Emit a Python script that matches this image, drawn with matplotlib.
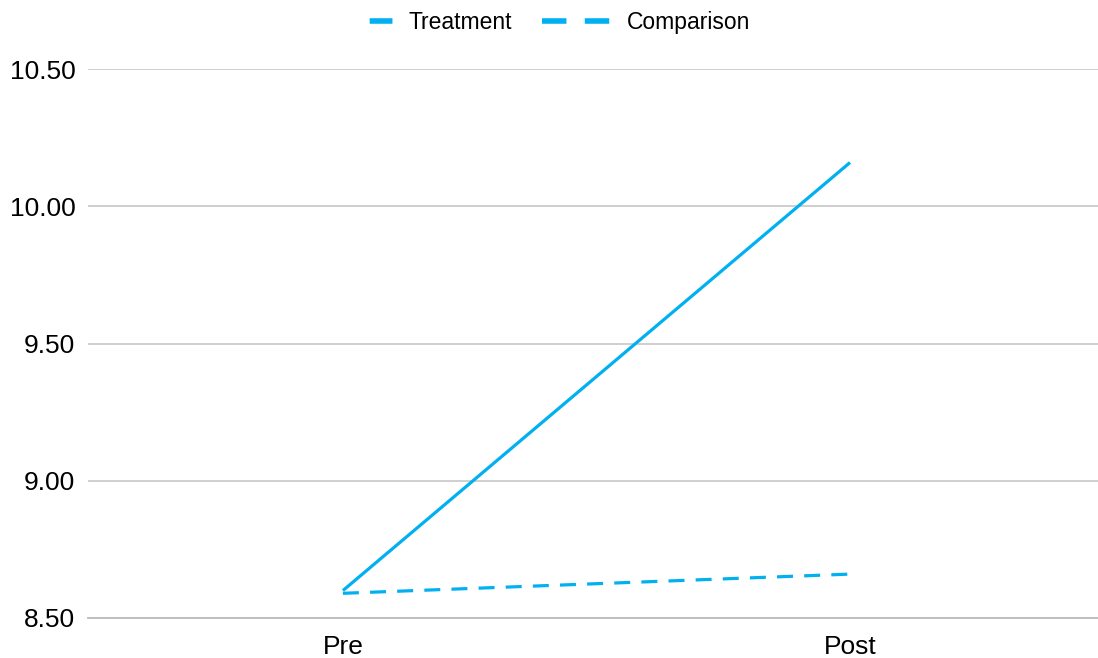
import matplotlib.pyplot as plt
from matplotlib.lines import Line2D

plt.rcParams["font.family"] = ["Liberation Sans", "DejaVu Sans"]

# pre/post means for each group
periods = ["Pre", "Post"]
treatment = [8.60, 10.16]
comparison = [8.59, 8.66]
yticks = [8.50, 9.00, 9.50, 10.00, 10.50]

blue = "#00b0f0"

fig = plt.figure(figsize=(10.98, 6.58), dpi=100)
ax = fig.add_axes([0.080, 0.0608, 0.920, 0.834])

x = range(len(periods))
ax.plot(x, treatment, color=blue, lw=2.3, solid_capstyle="butt")
ax.plot(x, comparison, color=blue, lw=2.3, dashes=(5, 3.5), dash_capstyle="butt")

ax.set_xlim(-0.503, 1.489)
ax.set_ylim(yticks[0], yticks[-1])
ax.set_xticks(list(x))
ax.set_xticklabels(periods)
ax.set_yticks(yticks)
ax.set_yticklabels([f"{v:.2f}" for v in yticks])

ax.grid(axis="y", color="#cccccc", lw=1.3)
ax.set_axisbelow(True)
for side in ["top", "right", "left"]:
    ax.spines[side].set_visible(False)
ax.spines["bottom"].set_color("#bbbbbb")
ax.spines["bottom"].set_linewidth(1.3)
ax.tick_params(axis="both", length=0, labelsize=19, colors="black")
ax.tick_params(axis="y", pad=9)
ax.tick_params(axis="x", pad=12)

# legend keys: one short dash for the solid series, two dashes for the dashed one
key_lw = 4
handles = [
    Line2D([], [], color=blue, lw=key_lw, dash_capstyle="butt",
           linestyle=(4.1, (4.1, 8.4))),
    Line2D([], [], color=blue, lw=key_lw, dash_capstyle="butt",
           linestyle=(0, (4.4, 3.3))),
]
fig.legend(handles, ["Treatment", "Comparison"], loc="upper center",
           bbox_to_anchor=(0.489, 1.015), ncol=2, frameon=False,
           fontsize=16.5, handlelength=3.1, columnspacing=1.35, handletextpad=0.6)

fig.savefig("out.png", dpi=100, facecolor="white")
